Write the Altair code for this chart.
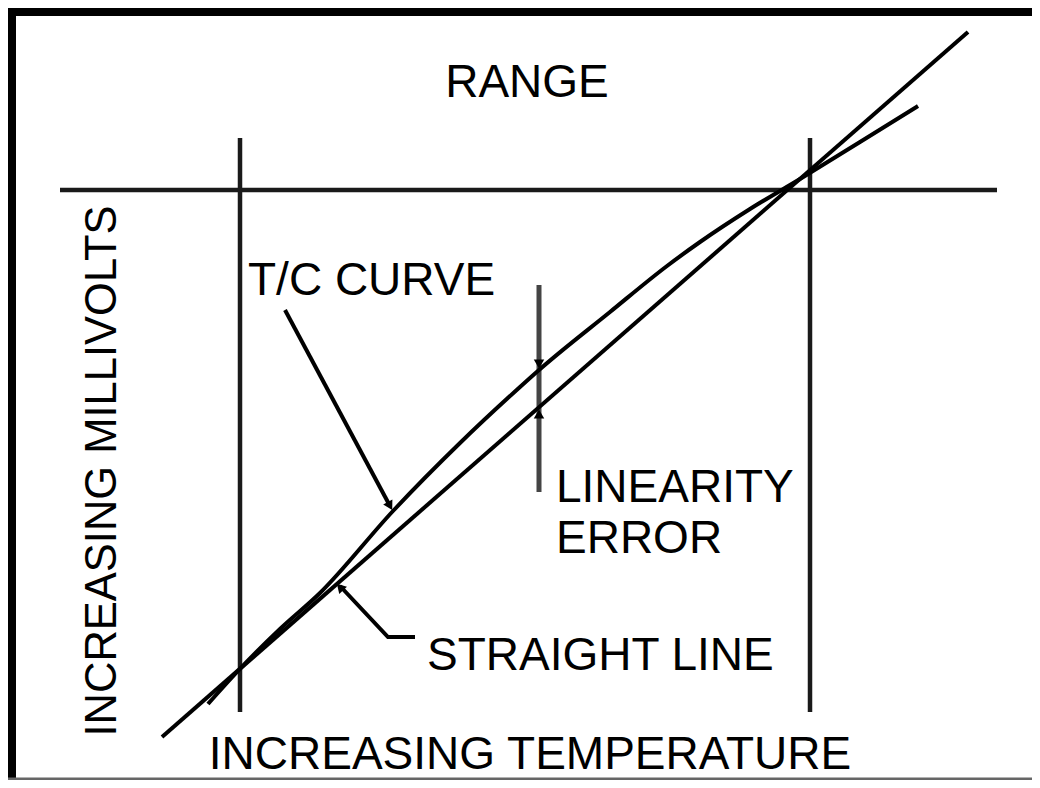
import altair as alt
import pandas as pd

# ---- diagram data (page pixel coordinates) ----
# straight reference line
straight_x = [162, 968]
straight_y = [737, 32]
# thermocouple (T/C) curve
curve_x = [208, 238, 280, 320, 393, 460, 520, 539, 610, 667, 700, 750, 800, 860, 918]
curve_y = [704, 671, 629, 593, 511, 443, 387, 370, 312, 266, 242, 209, 179, 142, 106]
# range markers: one horizontal, two vertical
range_h_x = [60, 997]
range_h_y = [190, 190]
range_v_x = [240, 810]
range_v_y = [138, 712]
# linearity error bar
lin_x = [539, 539]
lin_y = [285, 492]
# leader lines
tc_leader_x = [285, 390]
tc_leader_y = [310, 506]
sl_leader_x = [340, 388, 415]
sl_leader_y = [586, 637, 637]
# arrow heads
arrow_x = [539, 539, 390, 340]
arrow_y = [364, 414, 506, 587]
arrow_shape = ["triangle-down", "triangle-up", "triangle-up", "triangle-up"]
arrow_angle = [0, 0, 151, 317]
# frame edges (left, top, bottom)
frame_x = [[12, 12], [8, 1032], [8, 1032]]
frame_y = [[8, 780], [12, 12], [779, 779]]
# labels
label_text = ["RANGE", "T/C CURVE", "LINEARITY", "ERROR", "STRAIGHT LINE", "INCREASING TEMPERATURE"]
label_x = [527, 248, 556, 556, 427, 530]
label_y = [97, 295, 502, 553, 670, 769]
label_align = ["center", "left", "left", "left", "left", "center"]
ylabel_text = ["INCREASING MILLIVOLTS"]
ylabel_x = [116]
ylabel_y = [471]

FONT = "Liberation Sans"
xs = alt.Scale(domain=[8, 1032], nice=False, zero=False)
ys = alt.Scale(domain=[8, 780], nice=False, zero=False, reverse=True)


def seg_df(name, xsv, ysv):
    return pd.DataFrame({"seg": name, "o": list(range(len(xsv))), "x": xsv, "y": ysv})


def line_layer(df, width, color, interp="linear"):
    return alt.Chart(df).mark_line(strokeWidth=width, color=color, strokeCap="butt", interpolate=interp).encode(
        x=alt.X("x:Q", scale=xs, axis=None),
        y=alt.Y("y:Q", scale=ys, axis=None),
        detail="seg:N",
        order="o:Q",
    )


frame_layer = line_layer(pd.concat([
    seg_df("left", frame_x[0], frame_y[0]),
    seg_df("top", frame_x[1], frame_y[1]),
]), 8, "black")
frame_bottom = line_layer(seg_df("bottom", frame_x[2], frame_y[2]), 3, "#666666")

guides = pd.concat([
    seg_df("h", range_h_x, range_h_y),
    seg_df("v1", [range_v_x[0]] * 2, range_v_y),
    seg_df("v2", [range_v_x[1]] * 2, range_v_y),
])
guide_layer = line_layer(guides, 4.5, "#1a1a1a")

lin_layer = line_layer(seg_df("lin", lin_x, lin_y), 5, "#444444")

straight_layer = line_layer(seg_df("straight", straight_x, straight_y), 4, "black")
curve_layer = line_layer(seg_df("curve", curve_x, curve_y), 4, "black", "monotone")

leaders = pd.concat([seg_df("tc", tc_leader_x, tc_leader_y), seg_df("sl", sl_leader_x, sl_leader_y)])
leader_layer = line_layer(leaders, 4, "black")

arrows = alt.Chart(pd.DataFrame({"x": arrow_x, "y": arrow_y, "shape": arrow_shape, "angle": arrow_angle})).mark_point(
    filled=True, color="black", size=110, opacity=1
).encode(
    x=alt.X("x:Q", scale=xs, axis=None),
    y=alt.Y("y:Q", scale=ys, axis=None),
    shape=alt.Shape("shape:N", scale=None, legend=None),
    angle=alt.Angle("angle:Q", scale=None),
)

labels = alt.Chart(pd.DataFrame({"x": label_x, "y": label_y, "t": label_text, "a": label_align})).encode(
    x=alt.X("x:Q", scale=xs, axis=None),
    y=alt.Y("y:Q", scale=ys, axis=None),
    text="t:N",
)
labels_left = labels.transform_filter("datum.a == 'left'").mark_text(
    font=FONT, fontSize=46, color="black", baseline="alphabetic", align="left")
labels_center = labels.transform_filter("datum.a == 'center'").mark_text(
    font=FONT, fontSize=46, color="black", baseline="alphabetic", align="center")

ylabel = alt.Chart(pd.DataFrame({"x": ylabel_x, "y": ylabel_y, "t": ylabel_text})).mark_text(
    font=FONT, fontSize=43.5, color="black", baseline="alphabetic", align="center", angle=270
).encode(
    x=alt.X("x:Q", scale=xs, axis=None),
    y=alt.Y("y:Q", scale=ys, axis=None),
    text="t:N",
)

chart = alt.layer(
    frame_layer, frame_bottom, guide_layer, lin_layer, straight_layer, curve_layer, leader_layer, arrows,
    labels_left, labels_center, ylabel
).properties(
    width=1024, height=772, padding=0, autosize="none", background="white"
).configure_view(stroke=None)

chart.save("out.html", embed_options={"renderer": "svg", "actions": False})
